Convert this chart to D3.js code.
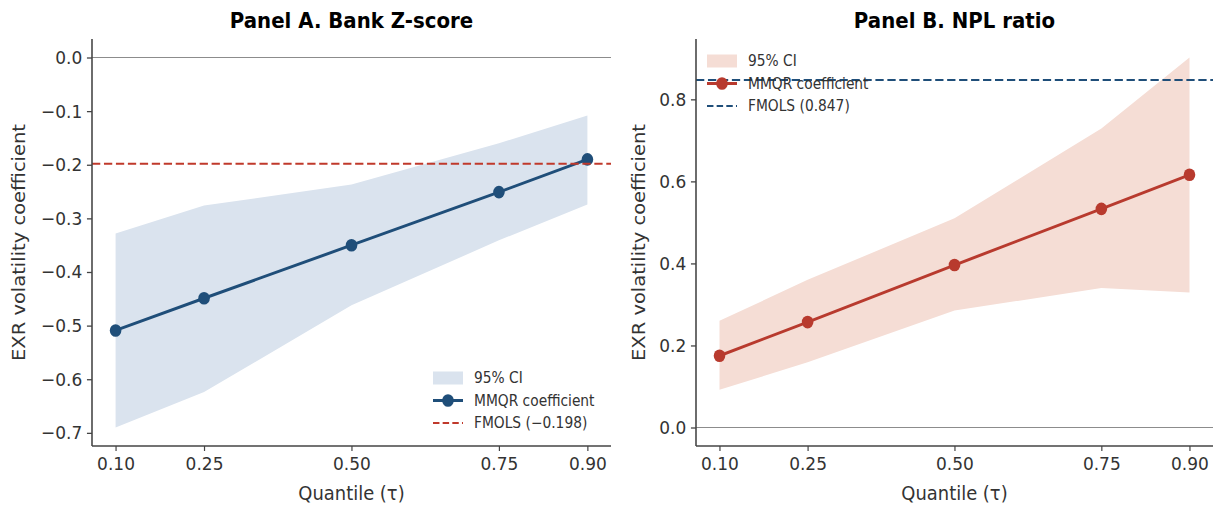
<!DOCTYPE html>
<html>
<head>
<meta charset="utf-8">
<script src="https://cdn.jsdelivr.net/npm/d3@7"></script>
<style>
  html, body { margin: 0; padding: 0; background: #fff; }
  svg { display: block; font-family: 'DejaVu Sans', sans-serif; }
</style>
</head>
<body>
<svg id="chart" width="1226" height="512"></svg>
<script>
// ---- data ----
const quantiles = [0.10, 0.25, 0.50, 0.75, 0.90];
const quantileLabels = ['0.10', '0.25', '0.50', '0.75', '0.90'];

const zCoef = [-0.509, -0.449, -0.350, -0.251, -0.190];
const zLower = [-0.690, -0.624, -0.462, -0.341, -0.274];
const zUpper = [-0.328, -0.276, -0.237, -0.160, -0.108];
const zFmols = -0.198;
const zTicks = [0, -0.1, -0.2, -0.3, -0.4, -0.5, -0.6, -0.7];

const nplCoef = [0.175, 0.257, 0.396, 0.533, 0.616];
const nplLower = [0.092, 0.159, 0.285, 0.340, 0.329];
const nplUpper = [0.260, 0.360, 0.510, 0.729, 0.902];
const nplFmols = 0.847;
const nplTicks = [0, 0.2, 0.4, 0.6, 0.8];

const COLORS = {
    blue: '#1f4e79',
    blueFill: '#dae3ee',
    red: '#b83a2e',
    redDash: '#c0392b',
    redFill: '#f5ddd5',
    zero: '#8c8c8c',
    spine: '#444',
    text: '#333',
};

// the figure is a little narrower than it is tall (squeezed horizontally)
const SX = 0.92;
const W = 1226 / SX;
const X = (px) => px / SX;

const svg = d3.select('#chart')
    .attr('viewBox', `0 0 ${W} 512`)
    .attr('preserveAspectRatio', 'none');

function panel(opts) {
    const { left, right, top, bottom, title, coef, lower, upper, fmols, fmolsLabel,
        ticks, lineColor, fillColor, dashColor, legendPos, labelX } = opts;

    const g = svg.append('g');

    const x = d3.scaleLinear().domain([0.06, 0.94]).range([X(left), X(right)]);
    const lo = Math.min(0, d3.min(lower), fmols);
    const hi = Math.max(0, d3.max(upper), fmols);
    const pad = (hi - lo) * 0.05;
    const y = d3.scaleLinear().domain([lo - pad, hi + pad]).range([bottom, top]);

    const rows = quantiles.map((q, i) => ({ q, c: coef[i], l: lower[i], u: upper[i] }));

    // CI band
    g.append('path')
        .datum(rows)
        .attr('fill', fillColor)
        .attr('d', d3.area().x((d) => x(d.q)).y0((d) => y(d.l)).y1((d) => y(d.u)));

    // zero line
    g.append('line')
        .attr('x1', X(left)).attr('x2', X(right))
        .attr('y1', y(0)).attr('y2', y(0))
        .attr('stroke', COLORS.zero).attr('stroke-width', 1.2);

    // MMQR line + markers
    g.append('path')
        .datum(rows)
        .attr('fill', 'none')
        .attr('stroke', lineColor)
        .attr('stroke-width', 3)
        .attr('d', d3.line().x((d) => x(d.q)).y((d) => y(d.c)));

    g.selectAll('circle.pt')
        .data(rows)
        .enter()
        .append('circle')
        .attr('class', 'pt')
        .attr('cx', (d) => x(d.q))
        .attr('cy', (d) => y(d.c))
        .attr('r', 6.3)
        .attr('fill', lineColor);

    // FMOLS line
    g.append('line')
        .attr('x1', X(left)).attr('x2', X(right))
        .attr('y1', y(fmols)).attr('y2', y(fmols))
        .attr('stroke', dashColor)
        .attr('stroke-width', 2)
        .attr('stroke-dasharray', '9,4');

    // axes
    const yAxis = d3.axisLeft(y).tickValues(ticks).tickSize(5.5).tickPadding(5)
        .tickFormat(d3.format('.1f'));
    const yg = g.append('g').attr('transform', `translate(${X(left)},0)`).call(yAxis);

    const xAxis = d3.axisBottom(x).tickValues(quantiles).tickSize(5).tickPadding(6)
        .tickFormat((d, i) => quantileLabels[i]);
    const xg = g.append('g').attr('transform', `translate(0,${bottom})`).call(xAxis);

    [yg, xg].forEach((ax) => {
        ax.select('.domain').attr('stroke', COLORS.spine).attr('stroke-width', 1.7);
        ax.selectAll('.tick line').attr('stroke', COLORS.spine).attr('stroke-width', 1.3);
        ax.selectAll('.tick text')
            .attr('fill', COLORS.text)
            .attr('font-size', 18.5)
            .attr('font-family', 'DejaVu Sans, sans-serif');
    });
    // spine ends exactly at axes box (no outer tick)
    yg.select('.domain').attr('d', `M0,${top}V${bottom}`);
    xg.select('.domain').attr('d', `M${X(left)},0H${X(right)}`);

    // labels
    g.append('text')
        .attr('x', X((left + right) / 2))
        .attr('y', 28)
        .attr('text-anchor', 'middle')
        .attr('font-size', 21.5)
        .attr('font-weight', 'bold')
        .attr('fill', '#000')
        .text(title);

    g.append('text')
        .attr('x', X((left + right) / 2))
        .attr('y', 500)
        .attr('text-anchor', 'middle')
        .attr('font-size', 19.5)
        .attr('fill', COLORS.text)
        .text('Quantile (τ)');

    g.append('text')
        .attr('transform', `translate(${X(labelX)},${(top + bottom) / 2}) rotate(-90)`)
        .attr('text-anchor', 'middle')
        .attr('font-size', 19.5)
        .attr('fill', COLORS.text)
        .text('EXR volatility coefficient');

    // legend
    const lg = g.append('g').attr('transform', `translate(${X(legendPos[0])},${legendPos[1]})`);
    const items = ['95% CI', 'MMQR coefficient', fmolsLabel];
    items.forEach((label, i) => {
        const cy = i * 22.5;
        if (i === 0) {
            lg.append('rect').attr('x', 0).attr('y', cy - 6.5).attr('width', X(30)).attr('height', 13)
                .attr('fill', fillColor);
        } else if (i === 1) {
            lg.append('line').attr('x1', 0).attr('x2', X(30)).attr('y1', cy).attr('y2', cy)
                .attr('stroke', lineColor).attr('stroke-width', 3);
            lg.append('circle').attr('cx', X(15)).attr('cy', cy).attr('r', 6.3).attr('fill', lineColor);
        } else {
            lg.append('line').attr('x1', 0).attr('x2', X(30)).attr('y1', cy).attr('y2', cy)
                .attr('stroke', dashColor).attr('stroke-width', 2)
                .attr('stroke-dasharray', '7,3.5');
        }
        lg.append('text')
            .attr('x', X(41)).attr('y', cy).attr('dy', '0.35em')
            .attr('font-size', 15)
            .attr('fill', COLORS.text)
            .text(label);
    });
}

panel({
    left: 92, right: 611, top: 39, bottom: 446,
    title: 'Panel A. Bank Z-score',
    coef: zCoef, lower: zLower, upper: zUpper,
    fmols: zFmols, fmolsLabel: 'FMOLS (\u22120.198)',
    ticks: zTicks,
    lineColor: COLORS.blue, fillColor: COLORS.blueFill, dashColor: COLORS.redDash,
    legendPos: [433, 378], labelX: 25,
});

panel({
    left: 696, right: 1213, top: 39, bottom: 446,
    title: 'Panel B. NPL ratio',
    coef: nplCoef, lower: nplLower, upper: nplUpper,
    fmols: nplFmols, fmolsLabel: 'FMOLS (0.847)',
    ticks: nplTicks,
    lineColor: COLORS.red, fillColor: COLORS.redFill, dashColor: COLORS.blue,
    legendPos: [707, 61], labelX: 645,
});
</script>
</body>
</html>
